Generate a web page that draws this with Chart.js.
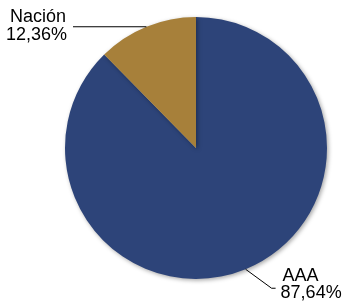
<!DOCTYPE html>
<html>
<head>
<meta charset="utf-8">
<script src="https://cdn.jsdelivr.net/npm/chart.js@4"></script>
<style>
html,body{margin:0;padding:0;background:#fff;}
#wrap{width:344px;height:304px;}
</style>
</head>
<body>
<div id="wrap"><canvas id="c" width="344" height="304"></canvas></div>
<script>
const categories = ["AAA", "Nación"];
const values = [87.64, 12.36];
const colors = ["#2D4479", "#A7803A"];

function fmt(v){ return v.toFixed(2).replace('.', ',') + '%'; }

const labelPlugin = {
  id: 'leaderLabels',
  afterDatasetsDraw(chart){
    const ctx = chart.ctx;
    const meta = chart.getDatasetMeta(0);
    ctx.save();
    ctx.font = '18px "Liberation Sans", Arial, sans-serif';
    ctx.fillStyle = '#000';
    ctx.strokeStyle = '#000';
    ctx.lineWidth = 1;
    meta.data.forEach((arc, i) => {
      const mid = (arc.startAngle + arc.endAngle) / 2;
      const px = arc.x + Math.cos(mid) * arc.outerRadius;
      const py = arc.y + Math.sin(mid) * arc.outerRadius;
      const name = chart.data.labels[i];
      const txt = fmt(chart.data.datasets[0].data[i]);
      ctx.beginPath();
      if (px < arc.x) {
        const ex = 73;
        ctx.moveTo(px, py);
        ctx.lineTo(ex, py);
        ctx.stroke();
        ctx.textAlign = 'right';
        ctx.textBaseline = 'alphabetic';
        ctx.fillText(name, ex - 7, py - 4.5);
        ctx.fillText(txt, ex - 6, py + 13.5);
      } else {
        const bx = px + 26, by = py + 19;
        ctx.moveTo(px, py);
        ctx.lineTo(bx, by);
        ctx.lineTo(bx + 4, by);
        ctx.stroke();
        ctx.textAlign = 'left';
        ctx.textBaseline = 'alphabetic';
        ctx.fillText(name, bx + 11, by - 7);
        ctx.fillText(txt, bx + 9, by + 10);
      }
    });
    ctx.restore();
  }
};

const shadowPlugin = {
  id: 'pieShadow',
  beforeDatasetsDraw(chart){
    const ctx = chart.ctx;
    ctx.save();
    ctx.shadowColor = 'rgba(0,0,0,0.35)';
    ctx.shadowBlur = 4;
    ctx.shadowOffsetX = 1.5;
    ctx.shadowOffsetY = 1.5;
  },
  afterDatasetsDraw(chart){
    chart.ctx.restore();
  }
};

new Chart(document.getElementById('c'), {
  type: 'pie',
  data: {
    labels: categories,
    datasets: [{
      data: values,
      backgroundColor: colors,
      borderWidth: 0
    }]
  },
  options: {
    responsive: false,
    animation: false,
    layout: { padding: { left: 65, right: 17, top: 17, bottom: 25 } },
    plugins: {
      legend: { display: false },
      tooltip: { enabled: false }
    }
  },
  plugins: [shadowPlugin, labelPlugin]
});
</script>
</body>
</html>
